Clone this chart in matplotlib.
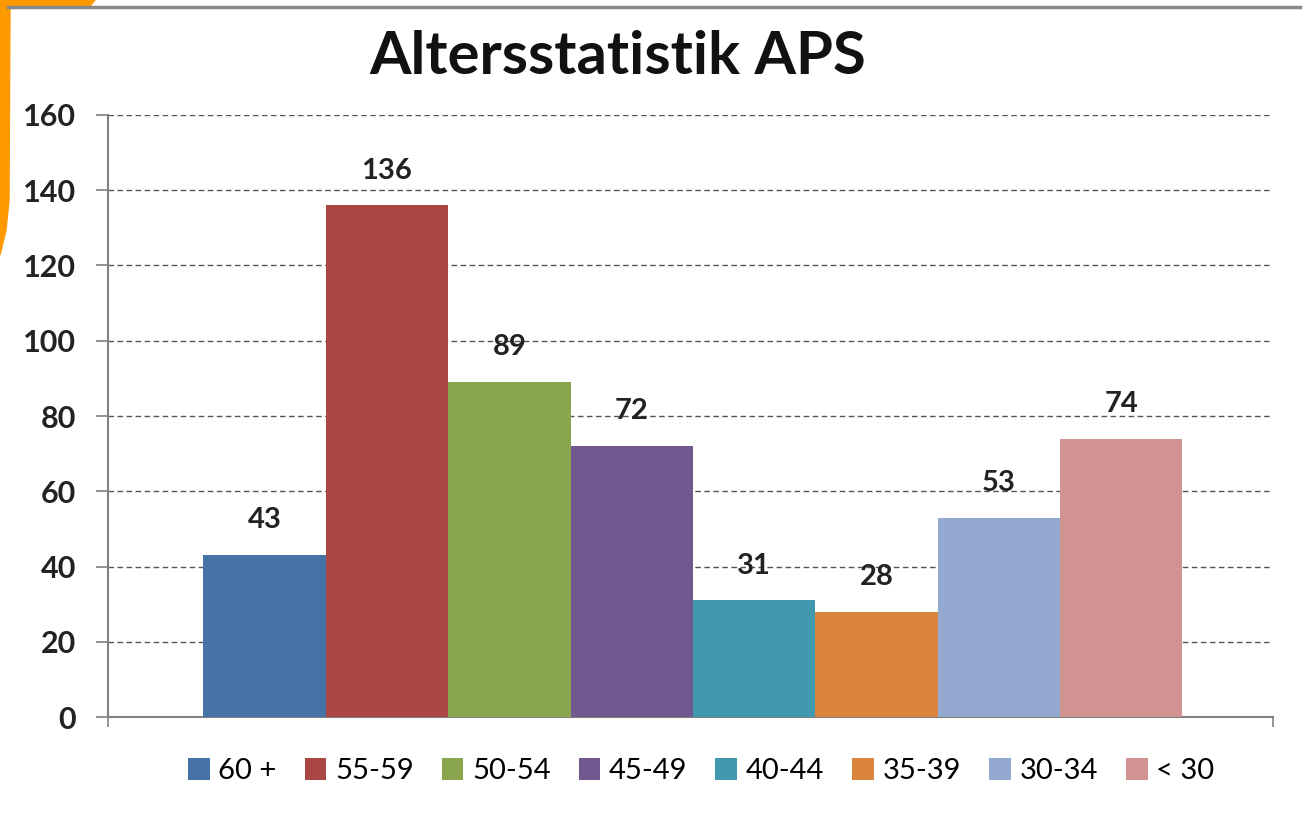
import matplotlib.pyplot as plt
from matplotlib.patches import Polygon
import numpy as np

groups = ["60 +", "55-59", "50-54", "45-49", "40-44", "35-39", "30-34", "< 30"]
counts = [43, 136, 89, 72, 31, 28, 53, 74]
colors = ["#4572A7", "#AA4643", "#89A54E", "#71588F", "#4198AF", "#DB843D", "#93A9CF", "#D19392"]
yticks = [0, 20, 40, 60, 80, 100, 120, 140, 160]

plt.rcParams['font.family'] = ['Lato', 'DejaVu Sans']

fig = plt.figure(figsize=(13.08, 8.22), dpi=100)
ax = fig.add_axes([108/1308, 1-717/822, 1165/1308, 602/822])

x = np.arange(len(counts))
bars = ax.bar(x, counts, width=1.0, color=colors, label=groups, zorder=3)
for xi, v in zip(x, counts):
    ax.annotate(str(v), (xi, v), xytext=(0, 25), textcoords='offset points',
                ha='center', va='center', fontsize=21, fontweight='bold', color='#222222')

ax.set_ylim(0, 160)
ax.set_xlim(-1.28, 8.24)
ax.set_yticks(yticks)
ax.set_yticklabels([str(t) for t in yticks], fontsize=22, fontweight='bold', color='#222222')
ax.set_xticks([-1.28, 8.24])
ax.set_xticklabels(["", ""])
ax.tick_params(axis='y', direction='out', length=9, width=1.2, color='#808080', pad=14)
ax.tick_params(axis='x', direction='out', length=7, width=1.2, color='#808080')
ax.yaxis.grid(True, linestyle=(0, (4, 2.5)), color='#555555', linewidth=1.0, zorder=0)
for s in ['top', 'right']:
    ax.spines[s].set_visible(False)
for s in ['left', 'bottom']:
    ax.spines[s].set_color('#808080')
    ax.spines[s].set_linewidth(1.5)

fig.text(0.472, 1-57/822, "Altersstatistik APS", ha='center', va='center',
         fontsize=43, fontweight='bold', color='#111111')

fig.legend(handles=bars, labels=groups, loc='center', bbox_to_anchor=(0.536, 1-771/822),
           ncol=8, frameon=False, fontsize=21, handlelength=0.75, handleheight=0.75,
           handletextpad=0.3, columnspacing=0.95)

# screenshot frame decoration
fig.add_artist(plt.Line2D([8/1308, 1300/1308], [1-7/822, 1-7/822], color='#888888', linewidth=2.5,
                          transform=fig.transFigure))
orange = Polygon([(0, 1), (95/1308, 1), (90/1308, 1-6/822), (10/1308, 1-6/822), (9/1308, 1-200/822),
                  (6/1308, 1-230/822), (0, 1-255/822)], closed=True, color='#FF9900',
                 transform=fig.transFigure)
fig.add_artist(orange)

fig.savefig("out.png", dpi=100)
